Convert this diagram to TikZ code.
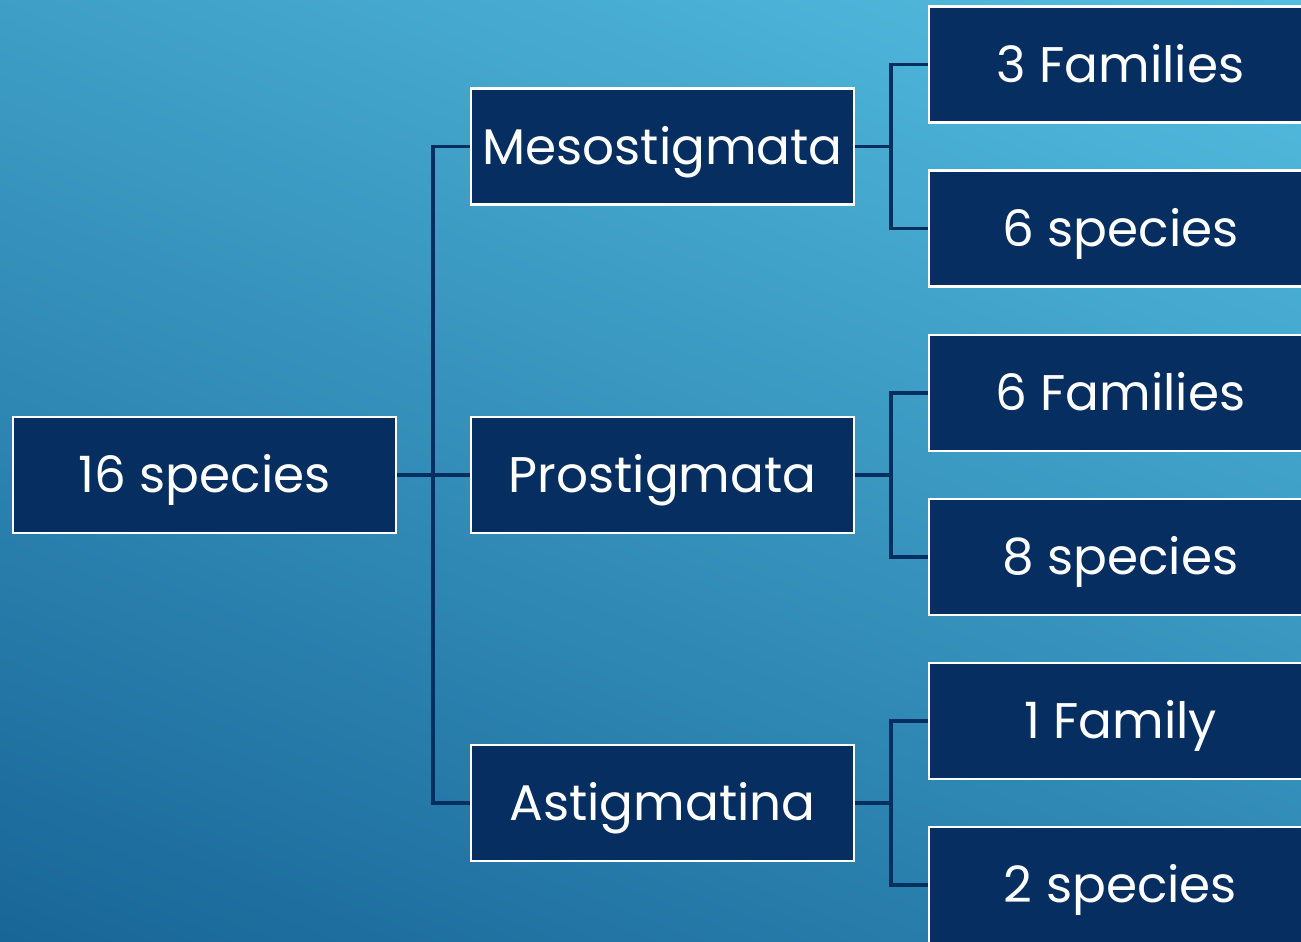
\documentclass[tikz,border=0pt]{standalone}
\usepackage{fontspec}
\setmainfont{Poppins}
\definecolor{navy}{HTML}{062E60}
\definecolor{skytop}{HTML}{56C1E3}
\definecolor{skybot}{HTML}{166395}

\begin{document}
\begin{tikzpicture}[x=0.02cm,y=-0.02cm,
    box/.style={draw=white,line width=1.6pt,fill=navy,text=white,
      minimum width=7.66cm,minimum height=2.32cm,inner sep=0pt,
      text height=20pt,text depth=0pt,
      font=\fontsize{28.5}{31}\selectfont},
    link/.style={draw=navy,line width=1.8pt}]
  \useasboundingbox (0,0) rectangle (1301,941);
  \clip (0,0) rectangle (1301,941);
  \shade[top color=skytop,bottom color=skybot,shading angle=-22] (-200,-200) rectangle (1500,1141);
  % boxes
  \node[box] (root) at (204.5,475) {16 species};
  \node[box] (meso) at (662.5,146.5) {Mesostigmata};
  \node[box] (pros) at (662.5,475) {Prostigmata};
  \node[box] (asti) at (662.5,803) {Astigmatina};
  \node[box] (mesofam) at (1120.5,64.5) {3 Families};
  \node[box] (mesospc) at (1120.5,228.5) {6 species};
  \node[box] (prosfam) at (1120.5,393) {6 Families};
  \node[box] (prosspc) at (1120.5,557) {8 species};
  \node[box] (astifam) at (1120.5,721) {1 Family};
  \node[box] (astispc) at (1120.5,885) {2 species};
  % junctions
  \coordinate (jroot) at (433,475);
  \coordinate (jmeso) at (891,146.5);
  \coordinate (jpros) at (891,475);
  \coordinate (jasti) at (891,803);
  \draw[link] (root.east) -- (jroot) (jroot) |- (meso.west) (jroot) -- (pros.west) (jroot) |- (asti.west);
  \draw[link] (meso.east) -- (jmeso) (jmeso) |- (mesofam.west) (jmeso) |- (mesospc.west);
  \draw[link] (pros.east) -- (jpros) (jpros) |- (prosfam.west) (jpros) |- (prosspc.west);
  \draw[link] (asti.east) -- (jasti) (jasti) |- (astifam.west) (jasti) |- (astispc.west);
\end{tikzpicture}
\end{document}
